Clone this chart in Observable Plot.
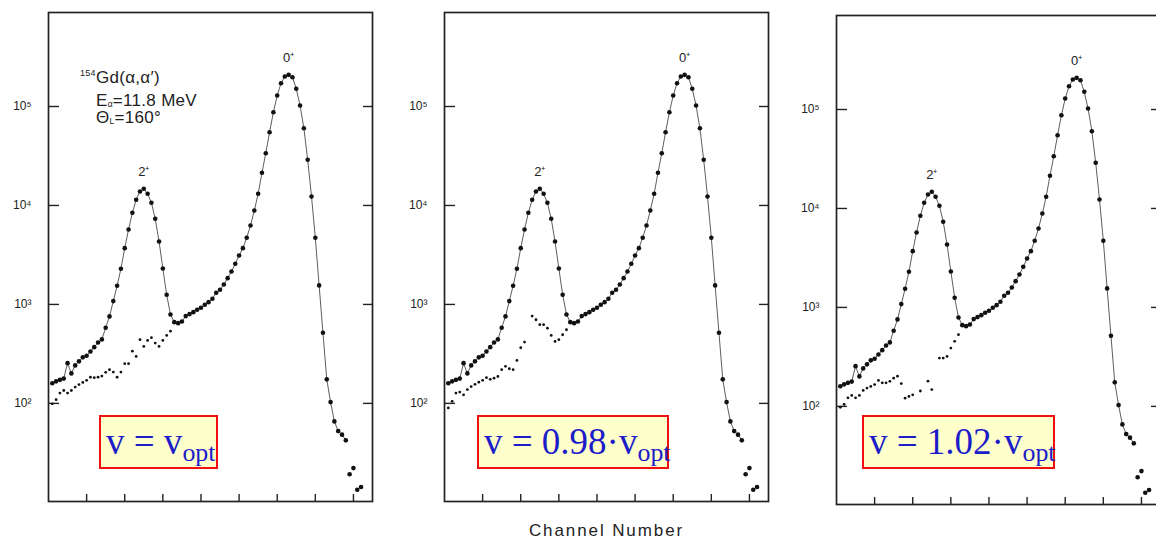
<!DOCTYPE html>
<html><head><meta charset="utf-8">
<script src="https://cdn.jsdelivr.net/npm/d3@7"></script>
<script src="https://cdn.jsdelivr.net/npm/@observablehq/plot@0.6"></script>
<style>
html,body{margin:0;padding:0;background:#fff;overflow:hidden}
#wrap{position:relative;width:1156px;height:541px;overflow:hidden;font-family:"Liberation Sans",Arial,sans-serif;color:#222}
.panel{position:absolute}
.box{position:absolute;top:415px;height:54px;box-sizing:border-box;border:2px solid #f01010;background:#ffffcc;color:#1c1cc8;font-family:"Liberation Serif","Times New Roman",serif;font-size:37px;line-height:50px;padding-left:5px;white-space:nowrap}
.box sub{font-size:0.7em;vertical-align:-0.27em;line-height:0}
.note{position:absolute;font-size:17px;line-height:13px;white-space:nowrap;color:#222;letter-spacing:0.3px}
.note sup{font-size:9px;vertical-align:7px;line-height:0}
.note sub{font-size:8.5px;vertical-align:-1px;line-height:0}
#xlabel{position:absolute;top:521px;left:0;width:1213px;text-align:center;font-size:17px;letter-spacing:1.9px;color:#222}
</style></head>
<body><div id="wrap"></div>
<script>
// ---- data ----
const upperCh = d3.range(1, 83);
const upperCounts = [160,167,173,178,255,201,242,266,292,303,335,370,413,443,582,757,1080,1545,2295,3705,
 5725,8440,11420,13840,14750,13130,10640,7340,4330,2310,1253,792,662,647,673,762,798,836,884,926,
 993,1055,1142,1313,1407,1592,1844,2155,2576,3126,3705,4720,6280,8900,13130,21380,33730,54970,87480,129000,
 171900,200900,208900,197700,150900,102400,60350,28970,12340,4720,1556,518,175,103,65.8,52.5,48.3,42.3,19.2,22.2,
 13.4,14.3];
const lineLastCh = 78;

const lower1Ch = [1,2,3,4,5,6,7,8,9,10,11,12,13,14,15,16,17,18,19,20,21,22,23,24,25,26,27,28,29,30,31,32];
const lower1Counts = [99,109,127,135,127,135,146,155,163,171,184,182,184,189,206,219,207,184,207,252,252,337,298,440,376,433,461,407,376,433,486,537];

const lower2Ch = [1,2,3,4,5,6,7,8,9,10,11,12,13,14,15,16,17,18,19,20,21,23,24,25,26,27,28,29,30,31,32];
const lower2Counts = [90,105,127,130,122,138,148,156,164,171,182,175,180,187,219,237,224,219,272,365,416,762,700,624,624,576,486,423,440,494,555];

const lower3Ch = [1,2,3,4,5,6,7,8,9,10,11,12,13,14,15,16,17,18,19,20,22,24,25,27,28,29,30,31,32];
const lower3Counts = [98,105,122,129,122,129,145,153,159,166,183,173,173,179,193,202,170,121,126,131,143,180,148,308,308,320,388,454,530];

const yTicks = [100, 1000, 10000, 100000];
const yTickLabels = ["10²", "10³", "10⁴", "10⁵"];
const xTicks = [10, 20, 30, 40, 50, 60, 70, 80];
const peakText = ["2⁺", "0⁺"];
const peakCh = [25, 63];
const boxTexts = ["v = v<sub>opt</sub>", "v = 0.98·v<sub>opt</sub>", "v = 1.02·v<sub>opt</sub>"];

// ---- build ----
const upper = upperCh.map((c, i) => ({ch: c, v: upperCounts[i]}));
const mk = (chs, vals) => chs.map((c, i) => ({ch: c, v: vals[i]}));
const lowers = [mk(lower1Ch, lower1Counts), mk(lower2Ch, lower2Counts), mk(lower3Ch, lower3Counts)];
const peaks = peakText.map((t, i) => ({ch: peakCh[i], v: upperCounts[upperCh.indexOf(peakCh[i])], t}));

const panels = [
  {left: 0, top: 0},
  {left: 396, top: 0},
  {left: 788, top: 3}
];
const boxes = [{l: 99, w: 119}, {l: 477, w: 192}, {l: 862, w: 193}];

const wrap = document.getElementById("wrap");

panels.forEach((p, k) => {
  const chart = Plot.plot({
    width: 382, height: 541,
    marginLeft: 48, marginRight: 10, marginTop: 12, marginBottom: 40,
    style: {background: "transparent", fontFamily: "Liberation Sans, Arial, sans-serif", color: "#222"},
    x: {domain: [0, 85], axis: null},
    y: {type: "log", domain: [10.2, 891000], axis: null},
    marks: [
      Plot.frame({stroke: "#222", strokeWidth: 1.7}),
      Plot.axisY(yTicks, {anchor: "left", label: null, tickSize: -11, tickPadding: 28, strokeWidth: 1.4,
        tickFormat: d => yTickLabels[yTicks.indexOf(d)], fontSize: 12, fill: "#222"}),
      Plot.axisY(yTicks, {anchor: "right", label: null, tickSize: -10, strokeWidth: 1.4, tickFormat: () => ""}),
      Plot.axisX(xTicks, {anchor: "bottom", label: null, tickSize: -7, strokeWidth: 1.4, tickFormat: () => ""}),
      Plot.line(upper.filter(d => d.ch <= lineLastCh), {x: "ch", y: "v", stroke: "#333", strokeWidth: 0.8}),
      Plot.dot(upper, {x: "ch", y: "v", r: 2.3, fill: "#111", stroke: "none"}),
      Plot.dot(lowers[k], {x: "ch", y: "v", r: 1.4, fill: "#111", stroke: "none"}),
      Plot.text(peaks, {x: "ch", y: "v", text: "t", fontSize: 13, fill: "#222", dy: -17})
    ]
  });
  chart.classList.add("panel");
  chart.style.left = p.left + "px";
  chart.style.top = p.top + "px";
  wrap.appendChild(chart);

  const b = document.createElement("div");
  b.className = "box";
  b.style.left = boxes[k].l + "px";
  b.style.width = boxes[k].w + "px";
  b.innerHTML = boxTexts[k];
  wrap.appendChild(b);
});

// annotation in first panel
const notes = [
  {top: 71, left: 80, html: "<sup>154</sup>Gd(α,α′)"},
  {top: 94, left: 96, html: "E<sub>α</sub>=11.8 MeV"},
  {top: 111, left: 96, html: "Θ<sub>L</sub>=160°"}
];
notes.forEach(n => {
  const d = document.createElement("div");
  d.className = "note";
  d.style.top = n.top + "px";
  d.style.left = n.left + "px";
  d.innerHTML = n.html;
  wrap.appendChild(d);
});

const xl = document.createElement("div");
xl.id = "xlabel";
xl.textContent = "Channel Number";
wrap.appendChild(xl);
</script>
</body></html>
